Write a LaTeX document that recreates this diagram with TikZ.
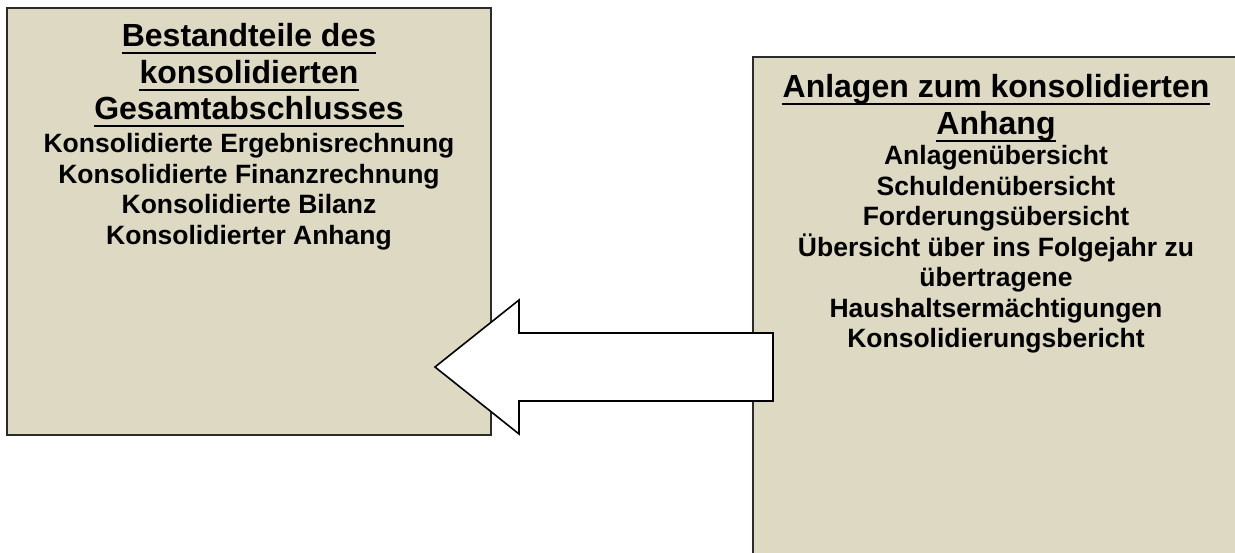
\documentclass[tikz,border=0pt]{standalone}
\usepackage{fontspec}
\setmainfont{Liberation Sans}
\definecolor{tanfill}{HTML}{DDD9C3}
\definecolor{boxline}{HTML}{2B2B2B}
\begin{document}
\begin{tikzpicture}[x=1pt,y=-1pt,
  panel/.style={draw=boxline,line width=1.6pt,fill=tanfill},
  headtxt/.style={anchor=base,inner sep=0pt,font=\bfseries\fontsize{32}{38}\selectfont},
  bodytxt/.style={anchor=base,inner sep=0pt,font=\bfseries\fontsize{26.5}{31}\selectfont},
  uline/.style={line width=2pt,black},
  bigarrow/.style={draw=black,line width=1.6pt,fill=white,line join=miter}]
\useasboundingbox (0,0) rectangle (1235,553);
\fill[white] (0,0) rectangle (1235,553);
% boxes
\draw[panel] (7,8) rectangle (491,435);
\draw[panel] (753,57) rectangle (1265,580);
% arrow
\coordinate (tip) at (435,367);
\draw[bigarrow] (tip) -- (519,300) -- (519,333) -- (773,333) -- (773,401) -- (519,401) -- (519,434) -- cycle;
% left texts
\node[headtxt] (l1) at (249,46.7) {Bestandteile des};
\node[headtxt] (l2) at (249,83.3) {konsolidierten};
\node[headtxt] (l3) at (249,120) {Gesamtabschlusses};
\foreach \n in {l1,l2,l3}{\draw[uline] ([yshift=-6.5pt]\n.base west) -- ([yshift=-6.5pt]\n.base east);}
\node[bodytxt] (lb1) at (249,153) {Konsolidierte Ergebnisrechnung};
\node[bodytxt] (lb2) at (249,183.5) {Konsolidierte Finanzrechnung};
\node[bodytxt] (lb3) at (249,214) {Konsolidierte Bilanz};
\node[bodytxt] (lb4) at (249,244.5) {Konsolidierter Anhang};
% right texts
\node[headtxt] (r1) at (996,98) {Anlagen zum konsolidierten};
\node[headtxt] (r2) at (996,135) {Anhang};
\foreach \n in {r1,r2}{\draw[uline] ([yshift=-6.5pt]\n.base west) -- ([yshift=-6.5pt]\n.base east);}
\node[bodytxt] (rb1) at (996,165) {Anlagenübersicht};
\node[bodytxt] (rb2) at (996,195.5) {Schuldenübersicht};
\node[bodytxt] (rb3) at (996,226) {Forderungsübersicht};
\node[bodytxt] (rb4) at (996,256.5) {Übersicht über ins Folgejahr zu};
\node[bodytxt] (rb5) at (996,287) {übertragene};
\node[bodytxt] (rb6) at (996,317.5) {Haushaltsermächtigungen};
\node[bodytxt] (rb7) at (996,348) {Konsolidierungsbericht};
\end{tikzpicture}
\end{document}
